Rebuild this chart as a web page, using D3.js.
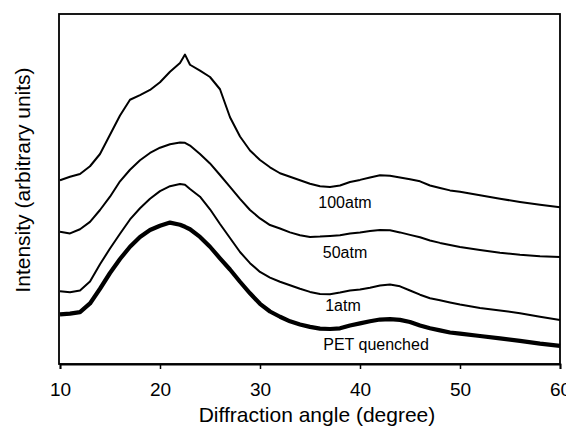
<!DOCTYPE html>
<html><head><meta charset="utf-8">
<script src="https://cdn.jsdelivr.net/npm/d3@7/dist/d3.min.js"></script>
<style>
html,body{margin:0;padding:0;background:#fff;}
svg{display:block;font-family:"Liberation Sans",Arial,sans-serif;}
</style></head>
<body><svg id="chart" width="566" height="436"></svg>
<script>
// Diffraction angle grid (degree)
const angles = [10,11,12,13,14,15,16,17,18,19,20,21,22,22.5,23,24,25,26,27,28,29,30,31,32,33,34,35,36,37,38,39,40,41,42,43,44,45,46,47,48,49,50,52,54,56,58,60];
// Intensity (arbitrary units)
const atm100 = [52.5,53.5,54.3,56.5,60.0,65.5,71.0,75.5,76.8,78.3,80.5,83.5,86.0,88.4,85.5,83.8,82.0,78.5,70.5,65.0,61.0,58.3,56.2,54.5,53.5,52.5,51.5,50.8,50.6,51.0,52.0,52.6,53.3,53.9,53.8,53.3,52.8,52.2,51.0,50.3,49.6,49.2,48.2,47.2,46.3,45.5,44.8];
const atm50 = [37.8,37.3,38.5,40.6,44.0,47.8,52.2,55.5,58.2,60.3,61.8,62.8,63.3,63.2,62.4,60.0,57.3,54.0,50.6,47.2,44.0,41.6,39.7,38.7,37.6,36.8,36.3,36.4,36.6,36.8,37.3,37.6,38.0,38.3,38.2,37.6,36.9,36.2,35.3,34.6,34.0,33.4,32.6,31.8,31.2,30.8,30.6];
const atm1 = [20.8,20.5,21.0,23.6,28.5,33.0,37.2,41.3,44.5,47.2,49.4,50.8,51.4,51.2,50.0,47.8,44.2,40.0,36.0,32.0,28.8,26.3,24.7,23.5,22.5,21.5,20.6,20.0,19.9,20.4,21.0,21.3,21.8,22.4,22.7,22.2,21.0,19.8,18.8,18.2,17.6,17.0,16.0,15.3,14.5,13.5,12.6];
const quenched = [14.2,14.4,14.8,17.3,21.5,26.0,30.0,33.5,36.3,38.3,39.5,40.4,39.8,39.2,38.5,36.3,33.5,30.2,27.0,23.5,20.2,17.2,15.0,13.5,12.2,11.3,10.6,10.1,10.0,10.2,11.0,11.6,12.2,12.7,12.8,12.6,12.0,11.0,10.2,9.6,9.0,8.7,8.0,7.3,6.6,5.8,5.2];
const seriesNames = ["100atm","50atm","1atm","PET quenched"];
const xTicks = [10,20,30,40,50,60];

const svg = d3.select("#chart");
const L = 60, R = 560, T = 14, B = 364;
const x = d3.scaleLinear().domain([10,60]).range([L,R]);
const y = d3.scaleLinear().domain([0,100]).range([B,T]);

// frame
svg.append("rect").attr("x",L-1).attr("y",T).attr("width",R-L+1).attr("height",B-T)
  .attr("fill","none").attr("stroke","#000").attr("stroke-width",1.8);

// x axis
const xa = svg.append("g").attr("transform",`translate(0,${B})`)
  .call(d3.axisBottom(x).tickValues(xTicks).tickSize(5).tickPadding(14).tickFormat(d3.format("d")));
xa.select(".domain").attr("stroke","#000").attr("stroke-width",1.8);
xa.selectAll(".tick line").attr("stroke","#000").attr("stroke-width",1.5);
xa.selectAll(".tick text").attr("font-size",19).attr("fill","#000")
  .attr("font-family","'Liberation Sans',Arial,sans-serif");

// lines
const data = [atm100, atm50, atm1, quenched];
const widths = [2.0,2.0,2.0,4.2];
const line = d3.line().x((d,i)=>x(angles[i])).y(d=>y(d));
data.forEach((vals,k)=>{
  svg.append("path").datum(vals).attr("d",line)
    .attr("fill","none").attr("stroke","#000").attr("stroke-width",widths[k])
    .attr("stroke-linejoin","round");
});

// series labels
const labelAngles = [38.5,38.5,38.3,41.6];
const labelVals = [45.7,31.4,16.3,5.1];
seriesNames.forEach((n,k)=>{
  svg.append("text").attr("x",x(labelAngles[k])).attr("y",y(labelVals[k]))
    .attr("text-anchor","middle").attr("dominant-baseline","middle")
    .attr("font-size",16).attr("fill","#000").text(n);
});

// axis titles
svg.append("text").attr("x",317).attr("y",422).attr("text-anchor","middle")
  .attr("font-size",21).attr("fill","#000").text("Diffraction angle (degree)");
svg.append("text").attr("transform","translate(30,180) rotate(-90)").attr("text-anchor","middle")
  .attr("font-size",21).attr("fill","#000").text("Intensity (arbitrary units)");
</script></body></html>
